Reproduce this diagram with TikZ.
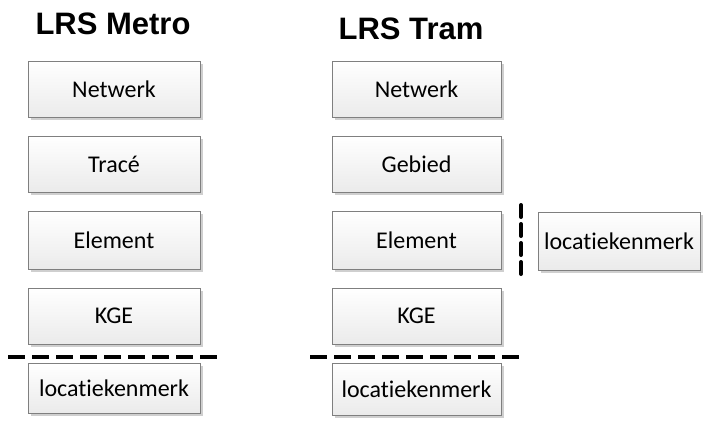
\documentclass[tikz,border=0pt]{standalone}
\usepackage{fontspec}
\setmainfont[Ligatures=NoCommon]{Carlito}
\newfontfamily\titlefont{Liberation Sans}
\usetikzlibrary{shadows}
\definecolor{boxline}{HTML}{7F7F7F}
\definecolor{boxshade}{HTML}{CFCFCF}
\tikzset{
  layerbox/.style={draw=boxline, line width=1pt, top color=white, bottom color=black!8,
    minimum width=172pt, minimum height=56pt, inner sep=0pt,
    font=\fontsize{24}{28}\selectfont,
    drop shadow={shadow xshift=3pt, shadow yshift=-3pt, fill=boxshade, opacity=1}},
  title/.style={font=\titlefont\bfseries\fontsize{31}{36}\selectfont},
  cutline/.style={line width=4pt, dash pattern=on 17pt off 7pt},
  vcutline/.style={line width=4pt, dash pattern=on 12pt off 7pt, line cap=round}
}
\begin{document}
\begin{tikzpicture}[x=1pt,y=-1pt]
\useasboundingbox (0,0) rectangle (704,423);

% titles
\node[title] (tmetro) at (113,24) {LRS Metro};
\node[title] (ttram) at (411,29) {LRS Tram};

% metro column
\node[layerbox] (mnet) at (114,89) {Netwerk};
\node[layerbox] (mtrace) at (114,164) {Tracé};
\node[layerbox, minimum height=58pt] (melem) at (114,240) {Element};
\node[layerbox] (mkge) at (114,316) {KGE};
\node[layerbox, minimum height=50pt] (mloc) at (114,388) {locatiekenmerk};

% tram column
\node[layerbox, minimum width=169pt] (tnet) at (416.5,89) {Netwerk};
\node[layerbox, minimum width=169pt] (tgeb) at (416.5,164) {Gebied};
\node[layerbox, minimum width=169pt, minimum height=58pt] (telem) at (416.5,240) {Element};
\node[layerbox, minimum width=169pt] (tkge) at (416.5,316) {KGE};
\node[layerbox, minimum width=169pt, minimum height=52pt] (tloc) at (416.5,389) {locatiekenmerk};
\node[layerbox, minimum width=162pt, minimum height=58pt] (tloc2) at (619,241) {locatiekenmerk};

% separating dashed lines
\coordinate (mcutA) at (8,357);
\coordinate (mcutB) at (222,357);
\coordinate (tcutA) at (310,357);
\coordinate (tcutB) at (522,357);
\coordinate (vcutA) at (521,205);
\coordinate (vcutB) at (521,279);
\draw[cutline] (mcutA) -- (mcutB);
\draw[cutline] (tcutA) -- (tcutB);
\draw[vcutline] (vcutA) -- (vcutB);
\end{tikzpicture}
\end{document}
